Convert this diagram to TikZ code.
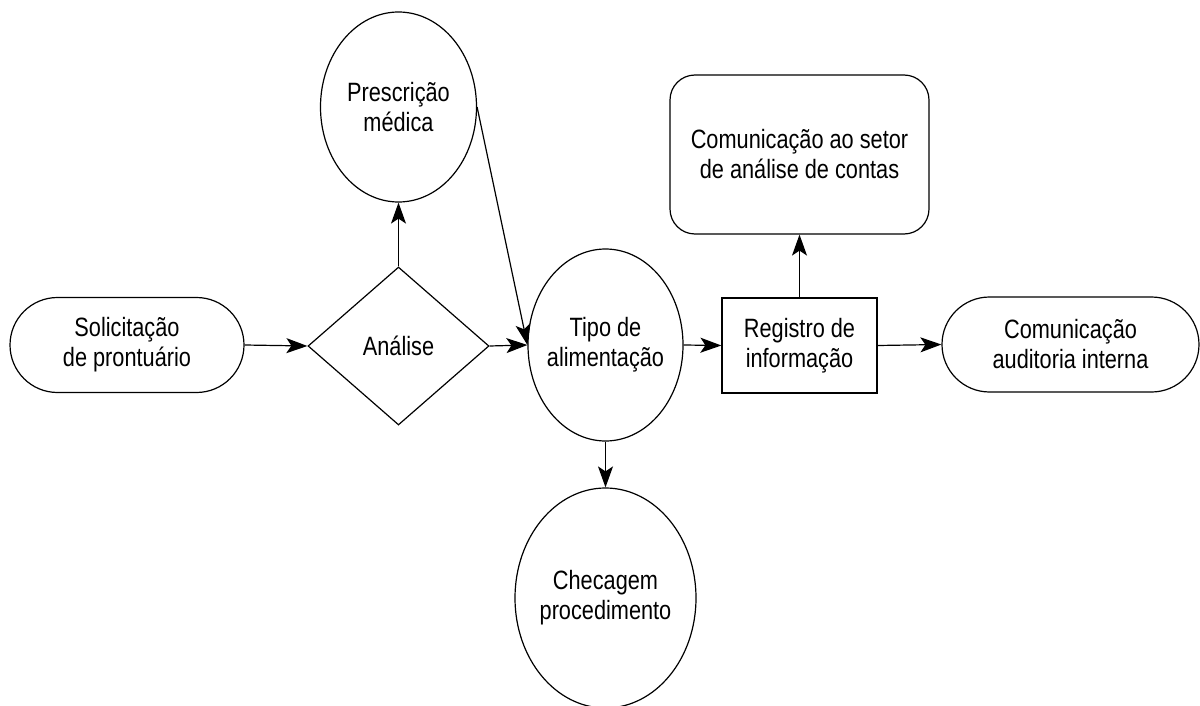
\documentclass[tikz,border=0pt]{standalone}
\usepackage{fontspec}
\setmainfont{Liberation Sans}[FakeStretch=0.82]
\usetikzlibrary{shapes.geometric,arrows.meta}
\begin{document}
\begin{tikzpicture}[x=1pt,y=-1pt,
  every node/.style={font=\fontsize{26.5}{30}\selectfont, align=center},
  base/.style={draw=black, line width=1.2pt, inner sep=0pt},
  stadium/.style={base, rectangle, rounded corners=47.5pt, minimum width=#1, minimum height=95pt},
  oval/.style={base, ellipse},
  decision/.style={base, diamond, aspect=1.146, minimum width=181pt, minimum height=158pt},
  procbox/.style={base, rectangle, minimum width=155pt, minimum height=95pt},
  roundbox/.style={base, rectangle, rounded corners=25pt, minimum width=259pt, minimum height=159pt},
  flow/.style={draw=black, line width=1.2pt, -{Stealth[length=21pt,width=15pt,inset=5pt]}}
]
\useasboundingbox (0,0) rectangle (1200,706);

% process nodes
\node[stadium=234pt] (sol) at (127,345) {Solicitação\\de prontuário};
\node[decision] (ana) at (398.5,346) {Análise};
\node[oval, minimum width=156pt, minimum height=190pt,
      label={[align=center]center:Prescrição\\médica}] (presc) at (398.5,107) {};
\node[oval, minimum width=155pt, minimum height=192pt,
      label={[align=center]center:Tipo de\\alimentação}] (tipo) at (605.5,345) {};
\node[oval, minimum width=181pt, minimum height=220pt,
      label={[align=center]center:Checagem\\procedimento}] (cheq) at (605.5,598) {};
\node[procbox] (reg) at (799.5,345.5) {Registro de\\informação};
\node[roundbox] (conta) at (799.5,154.5) {Comunicação ao setor\\de análise de contas};
\node[stadium=257pt] (aud) at (1070.5,344.5) {Comunicação\\auditoria interna};

% connectors
\draw[flow] (sol.east) -- (ana.west);
\draw[flow] (ana.north) -- (presc.south);
\draw[flow] (ana.east) -- (tipo.west);
\draw[flow] (presc.east) -- (tipo.west);
\draw[flow] (tipo.south) -- (cheq.north);
\draw[flow] (tipo.east) -- (reg.west);
\draw[flow] (reg.north) -- (conta.south);
\draw[flow] (reg.east) -- (aud.west);
\end{tikzpicture}
\end{document}
